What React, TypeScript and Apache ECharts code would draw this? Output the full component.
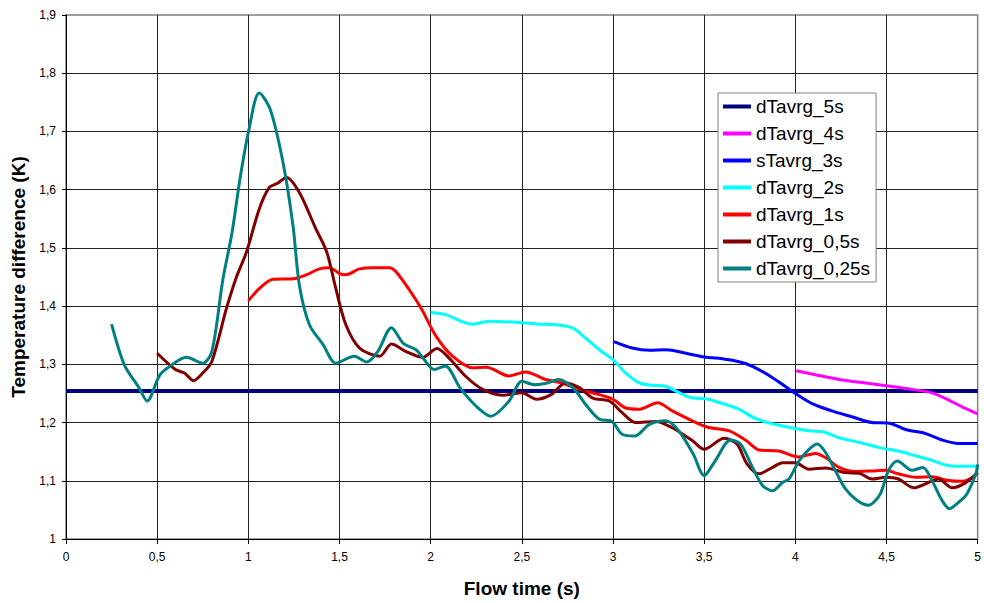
import React, { useEffect, useRef } from "react";
import * as echarts from "echarts";

const FONT = "'Liberation Sans', Arial, sans-serif";

const xTicks = { min: 0, max: 5, interval: 0.5 };
const yTicks = { min: 1, max: 1.9, interval: 0.1 };

const seriesNames = [
  "dTavrg_5s",
  "dTavrg_4s",
  "sTavrg_3s",
  "dTavrg_2s",
  "dTavrg_1s",
  "dTavrg_0,5s",
  "dTavrg_0,25s",
];
const seriesColors = ["#000080", "#ff00ff", "#0000ff", "#00ffff", "#ff0000", "#800000", "#008080"];

const t5s = [0, 5];
const v5s = [1.254, 1.254];

const t4s = [4.005, 4.11, 4.24, 4.385, 4.53, 4.64, 4.75, 4.825, 4.915, 5.0];
const v4s = [1.289, 1.282, 1.274, 1.268, 1.262, 1.257, 1.251, 1.241, 1.227, 1.215];

const t3s = [3.005, 3.105, 3.2, 3.29, 3.4, 3.51, 3.565, 3.655, 3.73, 3.8, 3.875, 3.945, 4.01, 4.095, 4.2, 4.31, 4.42, 4.515, 4.605, 4.715, 4.805, 4.895, 5.0];
const v3s = [1.339, 1.328, 1.324, 1.325, 1.319, 1.312, 1.311, 1.307, 1.301, 1.291, 1.277, 1.262, 1.248, 1.232, 1.22, 1.21, 1.2, 1.199, 1.188, 1.181, 1.17, 1.164, 1.164];

const t2s = [2.0, 2.085, 2.175, 2.23, 2.32, 2.485, 2.595, 2.685, 2.78, 2.85, 2.925, 3.0, 3.07, 3.145, 3.215, 3.29, 3.365, 3.435, 3.51, 3.545, 3.69, 3.78, 3.875, 3.965, 4.075, 4.165, 4.24, 4.35, 4.46, 4.565, 4.66, 4.75, 4.84, 4.93, 5.0];
const v2s = [1.389, 1.385, 1.373, 1.369, 1.374, 1.372, 1.369, 1.368, 1.362, 1.345, 1.325, 1.308, 1.285, 1.268, 1.264, 1.262, 1.251, 1.242, 1.241, 1.238, 1.223, 1.207, 1.198, 1.192, 1.186, 1.183, 1.174, 1.166, 1.157, 1.151, 1.143, 1.135, 1.126, 1.125, 1.125];

const t1s = [1.0, 1.06, 1.135, 1.245, 1.32, 1.39, 1.445, 1.5, 1.535, 1.61, 1.685, 1.775, 1.81, 1.885, 1.95, 2.03, 2.12, 2.23, 2.305, 2.43, 2.52, 2.63, 2.72, 2.815, 2.925, 3.0, 3.07, 3.145, 3.245, 3.325, 3.435, 3.52, 3.635, 3.73, 3.8, 3.91, 4.02, 4.11, 4.165, 4.24, 4.33, 4.42, 4.495, 4.565, 4.66, 4.75, 4.83, 4.915, 4.99];
const v1s = [1.409, 1.43, 1.446, 1.447, 1.454, 1.464, 1.466, 1.456, 1.454, 1.464, 1.466, 1.466, 1.459, 1.427, 1.395, 1.348, 1.314, 1.294, 1.295, 1.28, 1.287, 1.274, 1.268, 1.257, 1.248, 1.24, 1.225, 1.223, 1.234, 1.22, 1.203, 1.192, 1.186, 1.169, 1.153, 1.151, 1.141, 1.147, 1.14, 1.123, 1.116, 1.117, 1.118, 1.112, 1.106, 1.107, 1.101, 1.099, 1.109];

const t05s = [0.5, 0.6, 0.65, 0.7, 0.75, 0.8, 0.88, 0.935, 0.99, 1.06, 1.115, 1.16, 1.21, 1.28, 1.37, 1.43, 1.48, 1.535, 1.61, 1.72, 1.785, 1.865, 1.955, 2.035, 2.1, 2.19, 2.285, 2.395, 2.5, 2.58, 2.66, 2.74, 2.815, 2.89, 2.98, 3.05, 3.125, 3.235, 3.325, 3.435, 3.5, 3.61, 3.68, 3.735, 3.8, 3.875, 3.93, 4.0, 4.075, 4.165, 4.275, 4.35, 4.42, 4.495, 4.565, 4.65, 4.73, 4.785, 4.86, 4.93, 5.0];
const v05s = [1.319, 1.291, 1.285, 1.272, 1.285, 1.305, 1.396, 1.45, 1.493, 1.567, 1.604, 1.611, 1.621, 1.595, 1.533, 1.493, 1.43, 1.368, 1.328, 1.314, 1.335, 1.322, 1.312, 1.327, 1.311, 1.28, 1.257, 1.247, 1.251, 1.24, 1.248, 1.268, 1.26, 1.242, 1.237, 1.217, 1.2, 1.202, 1.191, 1.169, 1.154, 1.173, 1.163, 1.129, 1.112, 1.123, 1.131, 1.131, 1.12, 1.122, 1.114, 1.113, 1.103, 1.106, 1.103, 1.088, 1.097, 1.103, 1.088, 1.096, 1.114];

const t025s = [0.25, 0.32, 0.4, 0.445, 0.515, 0.58, 0.66, 0.75, 0.8, 0.86, 0.91, 0.955, 1.0, 1.06, 1.12, 1.19, 1.245, 1.28, 1.335, 1.41, 1.48, 1.58, 1.65, 1.71, 1.785, 1.85, 1.92, 1.96, 2.02, 2.08, 2.16, 2.25, 2.33, 2.43, 2.5, 2.57, 2.64, 2.7, 2.78, 2.85, 2.93, 2.99, 3.05, 3.12, 3.2, 3.29, 3.36, 3.44, 3.5, 3.56, 3.645, 3.7, 3.765, 3.82, 3.875, 3.93, 3.965, 4.02, 4.075, 4.12, 4.165, 4.22, 4.275, 4.34, 4.4, 4.465, 4.51, 4.56, 4.64, 4.7, 4.75, 4.805, 4.845, 4.895, 4.94, 4.99, 5.0];
const v025s = [1.369, 1.299, 1.26, 1.237, 1.282, 1.299, 1.312, 1.302, 1.322, 1.445, 1.525, 1.62, 1.698, 1.766, 1.738, 1.647, 1.538, 1.436, 1.368, 1.334, 1.302, 1.314, 1.304, 1.322, 1.363, 1.336, 1.325, 1.31, 1.291, 1.297, 1.26, 1.228, 1.211, 1.237, 1.271, 1.265, 1.268, 1.274, 1.26, 1.231, 1.205, 1.203, 1.18, 1.177, 1.197, 1.203, 1.186, 1.146, 1.109, 1.134, 1.17, 1.163, 1.123, 1.092, 1.083, 1.097, 1.103, 1.134, 1.154, 1.163, 1.149, 1.117, 1.086, 1.066, 1.058, 1.077, 1.117, 1.134, 1.118, 1.123, 1.1, 1.066, 1.052, 1.063, 1.077, 1.112, 1.128];

const seriesX = [t5s, t4s, t3s, t2s, t1s, t05s, t025s];
const seriesY = [v5s, v4s, v3s, v2s, v1s, v05s, v025s];

const fmt = (v: number) => String(Number(v.toFixed(2))).replace(".", ",");

export default function App() {
  const ref = useRef<HTMLDivElement>(null);
  useEffect(() => {
    if (!ref.current) return;
    const chart = echarts.init(ref.current, undefined, { renderer: "svg" });
    const series = seriesNames.map((name, i) => ({
      name,
      type: "line",
      data: seriesX[i].map((x, j) => [x, seriesY[i][j]]),
      showSymbol: false,
      symbol: "none",
      smooth: i === 0 ? false : 0.3,
      lineStyle: { color: seriesColors[i], width: i === 0 ? 4 : 3 },
      itemStyle: { color: seriesColors[i] },
      z: 2 + i,
    }));
    chart.setOption({
      animation: false,
      backgroundColor: "#ffffff",
      grid: {
        left: 66,
        right: 5,
        top: 15,
        bottom: 61,
        show: true,
        backgroundColor: "#ffffff",
        borderColor: "#808080",
        borderWidth: 1.5,
      },
      legend: {
        orient: "vertical",
        left: 718,
        top: 93,
        data: seriesNames,
        icon: "rect",
        itemWidth: 28,
        itemHeight: 4,
        itemGap: 8,
        padding: [4, 6, 4, 5],
        backgroundColor: "#ffffff",
        borderColor: "#808080",
        borderWidth: 1,
        textStyle: { fontFamily: FONT, fontSize: 19, color: "#000", lineHeight: 19 },
      },
      xAxis: {
        type: "value",
        min: xTicks.min,
        max: xTicks.max,
        interval: xTicks.interval,
        name: "Flow time (s)",
        nameLocation: "middle",
        nameGap: 40,
        nameTextStyle: { fontFamily: FONT, fontSize: 19, fontWeight: "bold", color: "#000" },
        axisLine: { show: true, lineStyle: { color: "#000", width: 1 } },
        axisTick: { show: true, length: 5, lineStyle: { color: "#000" } },
        axisLabel: { fontFamily: FONT, fontSize: 12, color: "#000", margin: 12, formatter: fmt },
        splitLine: { show: true, showMaxLine: false, lineStyle: { color: "#222", width: 1 } },
      },
      yAxis: {
        type: "value",
        min: yTicks.min,
        max: yTicks.max,
        interval: yTicks.interval,
        name: "Temperature difference (K)",
        nameLocation: "middle",
        nameGap: 38,
        nameTextStyle: { fontFamily: FONT, fontSize: 19, fontWeight: "bold", color: "#000" },
        axisLine: { show: true, lineStyle: { color: "#000", width: 1 } },
        axisTick: { show: true, length: 4, lineStyle: { color: "#000" } },
        axisLabel: { fontFamily: FONT, fontSize: 12, color: "#000", margin: 10, formatter: fmt },
        splitLine: { show: true, showMaxLine: false, lineStyle: { color: "#222", width: 1 } },
      },
      series,
    });
    return () => chart.dispose();
  }, []);
  return (
    <div
      ref={ref}
      style={{ position: "absolute", left: 0, top: 0, width: 984, height: 603, background: "#fff" }}
    />
  );
}
